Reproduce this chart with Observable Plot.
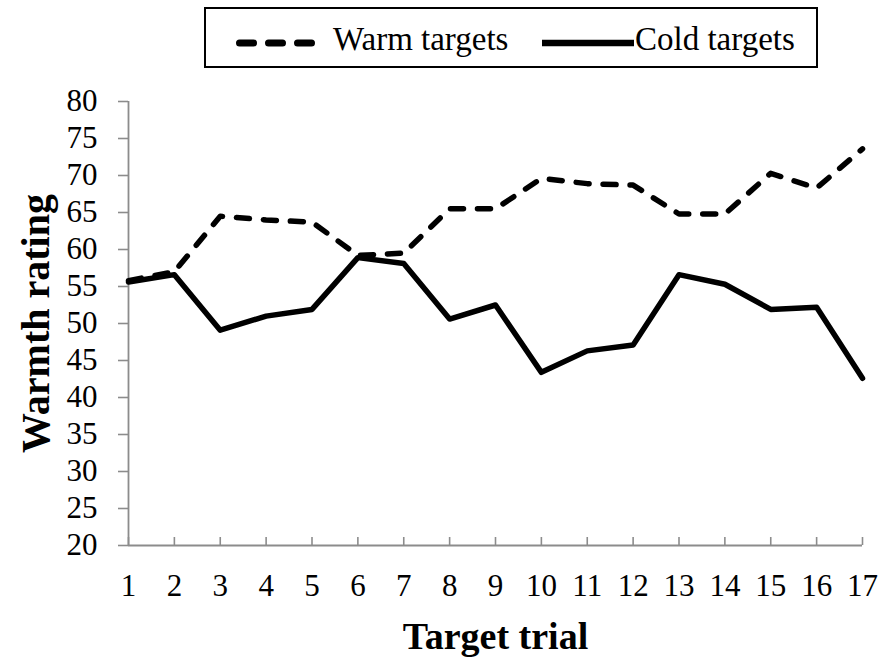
<!DOCTYPE html>
<html>
<head>
<meta charset="utf-8">
<script src="https://cdn.jsdelivr.net/npm/d3@7"></script>
<script src="https://cdn.jsdelivr.net/npm/@observablehq/plot@0.6"></script>
<style>
  html, body { margin: 0; padding: 0; background: #fff; }
  #wrap { position: relative; width: 884px; height: 659px; overflow: hidden; }
  #legend { position: absolute; left: 0; top: 0; }
  #chart { position: absolute; left: 0; top: 80px; }
  text { font-family: "Liberation Serif", "Times New Roman", serif; }
</style>
</head>
<body>
<div id="wrap">
  <svg id="legend" width="884" height="80">
    <rect x="205" y="8" width="612" height="59" fill="none" stroke="#000" stroke-width="2"></rect>
    <line x1="239.5" x2="311.5" y1="43" y2="43" stroke="#000" stroke-width="7" stroke-dasharray="14,15" stroke-linecap="round"></line>
    <text x="333" y="50" font-size="33" fill="#000" font-family="Liberation Serif, serif">Warm targets</text>
    <line x1="542" x2="634" y1="43" y2="43" stroke="#000" stroke-width="6.5" stroke-linecap="butt"></line>
    <text x="635" y="50" font-size="33" fill="#000" font-family="Liberation Serif, serif">Cold targets</text>
  </svg>
  <div id="chart"></div>
</div>
<script>
const trials = [1, 2, 3, 4, 5, 6, 7, 8, 9, 10, 11, 12, 13, 14, 15, 16, 17];
const warm = [55.8, 57.0, 64.5, 64.0, 63.7, 59.2, 59.5, 65.5, 65.5, 69.6, 68.9, 68.7, 64.8, 64.8, 70.3, 68.3, 73.6];
const cold = [55.6, 56.6, 49.1, 51.0, 51.9, 58.9, 58.1, 50.6, 52.5, 43.4, 46.3, 47.1, 56.6, 55.3, 51.9, 52.2, 42.6];
const yTicks = [20, 25, 30, 35, 40, 45, 50, 55, 60, 65, 70, 75, 80];
const yLabel = "Warmth rating";
const xLabel = "Target trial";

const warmData = trials.map((t, i) => ({trial: t, value: warm[i]}));
const coldData = trials.map((t, i) => ({trial: t, value: cold[i]}));

const grey = "#8c8c8c";
const plot = Plot.plot({
  width: 884,
  height: 579,
  marginTop: 21,
  marginBottom: 114,
  marginLeft: 128,
  marginRight: 22,
  style: {fontFamily: "'Liberation Serif', 'Times New Roman', serif", background: "#fff", color: "#000"},
  x: {type: "linear", domain: [1, 17]},
  y: {domain: [20, 80]},
  marks: [
    Plot.axisY(yTicks, {tickSize: 10, tickPadding: 21, stroke: grey, strokeWidth: 1.6, fontSize: 31, fill: "#000", label: null}),
    Plot.axisX(trials, {tickSize: 0, tickPadding: 28, fontSize: 31, fill: "#000", label: null, tickFormat: d => String(d)}),
    Plot.tickX(trials, {x: d => d, insetTop: 436, stroke: grey, strokeWidth: 1.6}),
    Plot.ruleX([1], {stroke: grey, strokeWidth: 1.8}),
    Plot.ruleY([20], {stroke: grey, strokeWidth: 1.8}),
    Plot.line(warmData, {x: "trial", y: "value", stroke: "#000", strokeWidth: 5.5, strokeDasharray: "13,14", strokeLinecap: "round", strokeLinejoin: "round"}),
    Plot.line(coldData, {x: "trial", y: "value", stroke: "#000", strokeWidth: 5.5, strokeLinejoin: "round"}),
    Plot.text([yLabel], {frameAnchor: "left", rotate: -90, dx: -92, textAnchor: "middle", text: d => d, fontSize: 40, fontWeight: "bold", fill: "#000"}),
    Plot.text([xLabel], {frameAnchor: "bottom", dy: 91, textAnchor: "middle", text: d => d, fontSize: 38, fontWeight: "bold", fill: "#000", lineAnchor: "middle"})
  ]
});
document.getElementById("chart").appendChild(plot);
</script>
</body>
</html>
